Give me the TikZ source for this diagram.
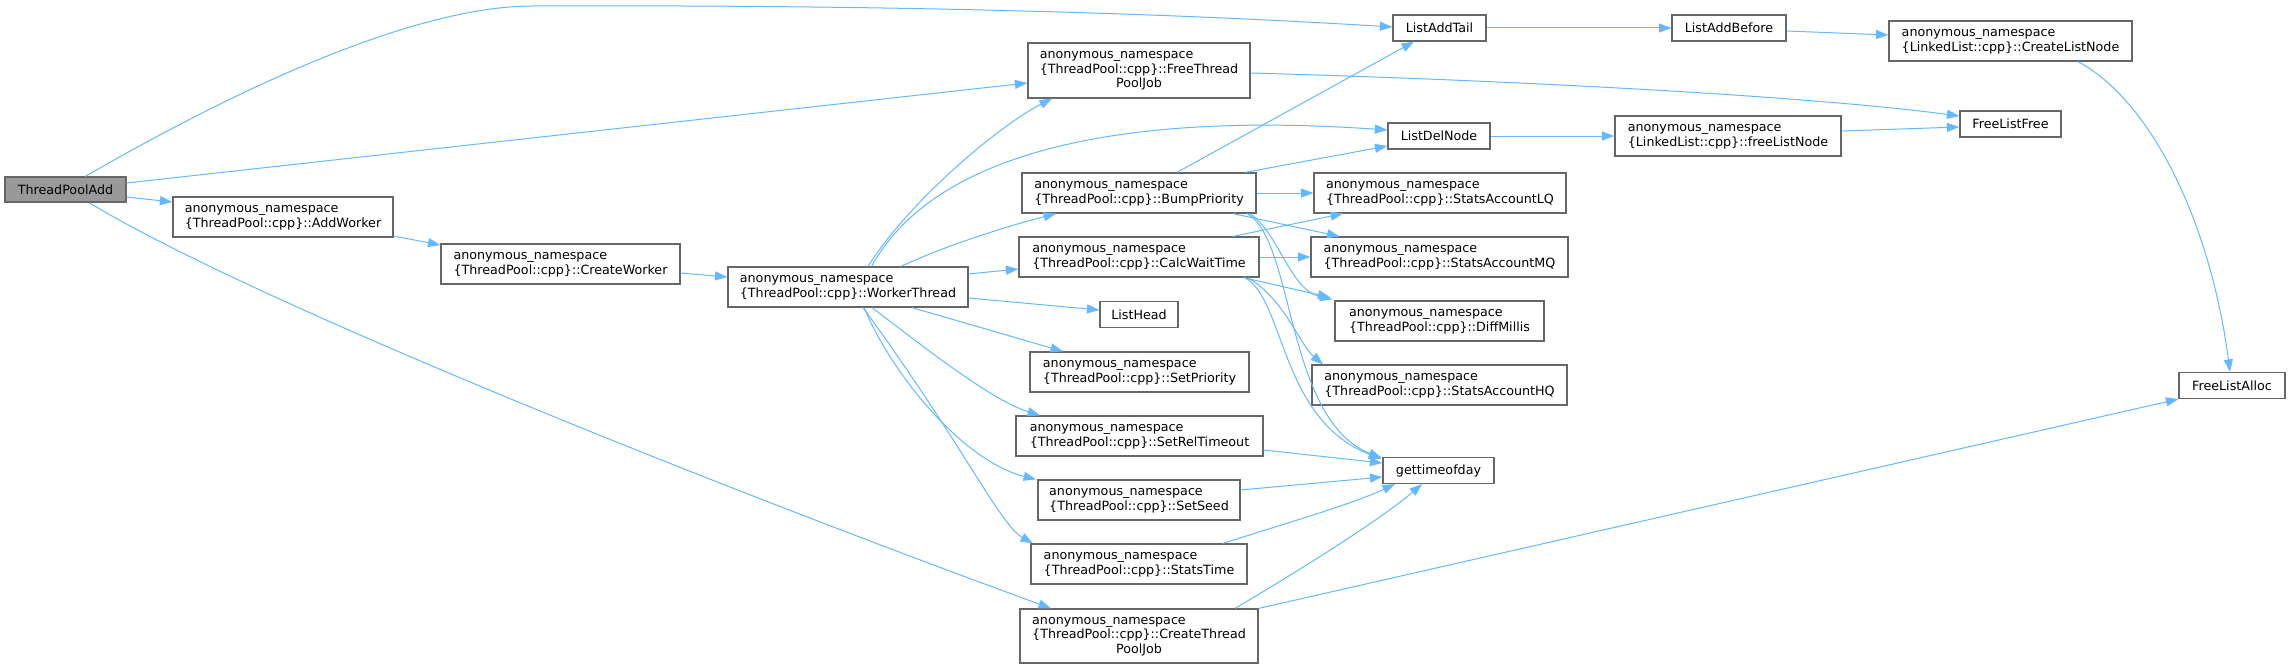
\documentclass[tikz,border=0pt]{standalone}
\usepackage{fontspec}
\setmainfont{DejaVu Sans}
\usetikzlibrary{arrows.meta,calc}
\definecolor{edgec}{HTML}{63B8FF}
\definecolor{bordc}{HTML}{666666}
\definecolor{hlfill}{HTML}{999999}
\newcommand{\mytwo}[2]{\begin{tabular}{@{}l@{}}#1\\#2\end{tabular}}
\newcommand{\mythree}[3]{\begin{tabular}{@{}l@{}}#1\\#2\\\multicolumn{1}{@{}c@{}}{#3}\end{tabular}}
\newcommand{\anns}{anonymous\_namespace}
\begin{document}
\begin{tikzpicture}[x=1pt,y=-1pt,
  fn/.style={draw=bordc, line width=1.2pt, fill=white, inner sep=0pt, font=\fontsize{12.7}{14.5}\selectfont, text=black},
  call/.style={draw=edgec, line width=1pt, -{Triangle[length=12.5pt,width=9pt]}}
]
\useasboundingbox (0,0) rectangle (2291,669);
% nodes
\node[fn, fill=hlfill, minimum width=121pt, minimum height=25pt] (tpa) at (65.5,189.5) {ThreadPoolAdd};
\node[fn, minimum width=220pt, minimum height=40pt] (addw) at (283,217) {\mytwo{\anns}{\{ThreadPool::cpp\}::AddWorker}};
\node[fn, minimum width=239pt, minimum height=40pt] (crw) at (560.5,264) {\mytwo{\anns}{\{ThreadPool::cpp\}::CreateWorker}};
\node[fn, minimum width=240pt, minimum height=40pt] (wt) at (848,287) {\mytwo{\anns}{\{ThreadPool::cpp\}::WorkerThread}};
\node[fn, minimum width=93pt, minimum height=26pt] (lat) at (1439.5,28) {ListAddTail};
\node[fn, minimum width=222pt, minimum height=55pt] (ftpj) at (1139,70.5) {\mythree{\anns}{\{ThreadPool::cpp\}::FreeThread}{PoolJob}};
\node[fn, minimum width=102pt, minimum height=26pt] (ldn) at (1439,136) {ListDelNode};
\node[fn, minimum width=234pt, minimum height=40pt] (bp) at (1139,193) {\mytwo{\anns}{\{ThreadPool::cpp\}::BumpPriority}};
\node[fn, minimum width=240pt, minimum height=40pt] (cwt) at (1139,257) {\mytwo{\anns}{\{ThreadPool::cpp\}::CalcWaitTime}};
\node[fn, minimum width=78pt, minimum height=26pt] (lh) at (1139,314.5) {ListHead};
\node[fn, minimum width=219pt, minimum height=40pt] (sp) at (1139.5,372) {\mytwo{\anns}{\{ThreadPool::cpp\}::SetPriority}};
\node[fn, minimum width=247pt, minimum height=40pt] (srt) at (1139.5,436) {\mytwo{\anns}{\{ThreadPool::cpp\}::SetRelTimeout}};
\node[fn, minimum width=202pt, minimum height=40pt] (ss) at (1139,500) {\mytwo{\anns}{\{ThreadPool::cpp\}::SetSeed}};
\node[fn, minimum width=216pt, minimum height=40pt] (st) at (1139,564) {\mytwo{\anns}{\{ThreadPool::cpp\}::StatsTime}};
\node[fn, minimum width=238pt, minimum height=54pt] (ctpj) at (1139,636) {\mythree{\anns}{\{ThreadPool::cpp\}::CreateThread}{PoolJob}};
\node[fn, minimum width=252pt, minimum height=40pt] (lq) at (1440,193) {\mytwo{\anns}{\{ThreadPool::cpp\}::StatsAccountLQ}};
\node[fn, minimum width=257pt, minimum height=40pt] (mq) at (1439.5,257) {\mytwo{\anns}{\{ThreadPool::cpp\}::StatsAccountMQ}};
\node[fn, minimum width=209pt, minimum height=40pt] (dm) at (1439.5,321) {\mytwo{\anns}{\{ThreadPool::cpp\}::DiffMillis}};
\node[fn, minimum width=255pt, minimum height=40pt] (hq) at (1439.5,385) {\mytwo{\anns}{\{ThreadPool::cpp\}::StatsAccountHQ}};
\node[fn, minimum width=111pt, minimum height=26pt] (gtod) at (1438.5,470.5) {gettimeofday};
\node[fn, minimum width=114pt, minimum height=26pt] (lab) at (1729,28) {ListAddBefore};
\node[fn, minimum width=243pt, minimum height=40pt] (cln) at (2010.5,41) {\mytwo{\anns}{\{LinkedList::cpp\}::CreateListNode}};
\node[fn, minimum width=101pt, minimum height=26pt] (flf) at (2010.5,124) {FreeListFree};
\node[fn, minimum width=226pt, minimum height=40pt] (fln) at (1728,136) {\mytwo{\anns}{\{LinkedList::cpp\}::freeListNode}};
\node[fn, minimum width=106pt, minimum height=26pt] (fla) at (2232,385.5) {FreeListAlloc};
% edges from ThreadPoolAdd
\draw[call] ($(tpa.north west)+(81,0)$) .. controls (200,110) and (400,6) .. (533,6) .. controls (800,5) and (1100,9) .. ($(lat.west)+(0,-1)$);
\draw[call] ($(tpa.east)+(0,-6.5)$) -- ($(ftpj.west)+(0,12.5)$);
\draw[call] ($(tpa.east)+(0,7.5)$) -- ($(addw.west)+(0,-15)$);
\draw[call] ($(tpa.south)+(23.5,0)$) .. controls (250,300) and (700,480) .. ($(ctpj.north)+(-88,0)$);
\draw[call] ($(addw.east)+(0,19)$) -- ($(crw.west)+(0,-19)$);
\draw[call] ($(crw.east)+(0,9)$) -- ($(wt.west)+(0,-10)$);
% edges from WorkerThread
\draw[call] ($(wt.north)+(20,0)$) .. controls (910,200) and (1000,125) .. ($(ftpj.south)+(-87,0)$);
\draw[call] ($(wt.north)+(23.5,0)$) .. controls (930,160) and (1100,110) .. ($(ldn.west)+(0,-6)$);
\draw[call] ($(wt.north)+(53,0)$) .. controls (940,248) and (1000,228) .. ($(bp.south)+(-83,0)$);
\draw[call] ($(wt.east)+(0,-13)$) -- ($(cwt.west)+(0,12)$);
\draw[call] ($(wt.east)+(0,11)$) -- ($(lh.west)+(0,-4.5)$);
\draw[call] ($(wt.south)+(64,0)$) -- ($(sp.north)+(-76.5,0)$);
\draw[call] ($(wt.south)+(24,0)$) .. controls (915,340) and (990,400) .. ($(srt.north)+(-99.5,0)$);
\draw[call] ($(wt.south)+(16,0)$) .. controls (890,370) and (960,460) .. ($(ss.north)+(-103,0)$);
\draw[call] ($(wt.south)+(15,0)$) .. controls (960,440) and (1000,525) .. ($(st.north)+(-106,0)$);
% edges from BumpPriority
\draw[call] ($(bp.north)+(38,0)$) -- ($(lat.south)+(-25.5,0)$);
\draw[call] ($(bp.north)+(106,0)$) -- ($(ldn.west)+(0,10)$);
\draw[call] (bp.east) -- (lq.west);
\draw[call] ($(bp.south)+(94,0)$) -- ($(mq.north)+(-100,0)$);
\draw[call] ($(bp.south)+(111,0)$) .. controls (1280,235) and (1290,290) .. ($(dm.north west)+(-2,-1)$);
\draw[call] ($(bp.south)+(108,0)$) .. controls (1295,240) and (1285,420) .. ($(gtod.north west)+(-1,1)$);
% edges from CalcWaitTime
\draw[call] ($(cwt.north)+(94,0)$) -- ($(lq.south)+(-97,0)$);
\draw[call] (cwt.east) -- (mq.west);
\draw[call] ($(cwt.south)+(104,0)$) -- ($(dm.north west)+(-4,-3)$);
\draw[call] ($(cwt.south)+(109,0)$) .. controls (1285,300) and (1300,345) .. ($(hq.north)+(-116.5,0)$);
\draw[call] ($(cwt.south)+(106,0)$) .. controls (1285,300) and (1280,420) .. ($(gtod.north west)+(-1,2)$);
% edges into gettimeofday
\draw[call] ($(srt.east)+(0,14)$) -- ($(gtod.west)+(0,-7.5)$);
\draw[call] ($(ss.east)+(0,-10)$) -- ($(gtod.west)+(0,6.5)$);
\draw[call] ($(st.north)+(84,0)$) .. controls (1280,525) and (1350,505) .. ($(gtod.south)+(-43.5,0)$);
\draw[call] ($(ctpj.north)+(96,0)$) .. controls (1300,570) and (1380,520) .. ($(gtod.south)+(-16.5,0)$);
\draw[call] (ctpj.north east) -- (fla.south west);
% list functions
\draw[call] (lat.east) -- (lab.west);
\draw[call] ($(lab.east)+(0,3)$) -- ($(cln.west)+(0,-6)$);
\draw[call] ($(cln.south)+(67.5,0)$) .. controls (2150,100) and (2210,220) .. ($(fla.north)+(-2,0)$);
\draw[call] (ldn.east) -- (fln.west);
\draw[call] ($(fln.east)+(0,-5)$) -- ($(flf.west)+(0,3)$);
\draw[call] ($(ftpj.east)+(0,2.5)$) .. controls (1500,80) and (1800,95) .. ($(flf.west)+(0,-8)$);
\end{tikzpicture}
\end{document}
